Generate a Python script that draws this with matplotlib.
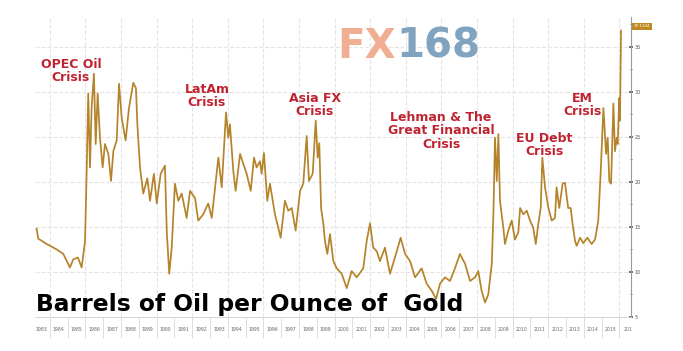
"""Barrels of oil per ounce of gold, 1983-2016."""

import matplotlib.pyplot as plt
from matplotlib.ticker import FixedLocator, NullFormatter

# ------------------------------------------------------------------ data ----

years = [
    1983.26, 1983.35, 1983.83, 1984.39, 1984.76, 1985.13, 1985.32, 1985.58,
    1985.79, 1985.98, 1986.07, 1986.16, 1986.26, 1986.35, 1986.48, 1986.58,
    1986.69, 1986.82, 1986.97, 1987.10, 1987.29, 1987.44, 1987.57, 1987.76,
    1987.89, 1988.04, 1988.26, 1988.45, 1988.69, 1988.84, 1988.92, 1989.07,
    1989.25, 1989.48, 1989.63, 1989.85, 1990.01, 1990.23, 1990.47, 1990.57,
    1990.71, 1990.85, 1991.03, 1991.22, 1991.41, 1991.69, 1991.88, 1992.16,
    1992.34, 1992.62, 1992.90, 1993.10, 1993.47, 1993.66, 1993.90, 1994.03,
    1994.12, 1994.31, 1994.44, 1994.69, 1994.87, 1995.06, 1995.29, 1995.47,
    1995.62, 1995.81, 1995.90, 1996.03, 1996.22, 1996.37, 1996.65, 1996.97,
    1997.21, 1997.40, 1997.59, 1997.81, 1998.06, 1998.24, 1998.43, 1998.56,
    1998.77, 1998.94, 1999.05, 1999.14, 1999.24, 1999.37, 1999.46, 1999.59,
    1999.74, 1999.93, 2000.12, 2000.40, 2000.68, 2000.96, 2001.24, 2001.61,
    2001.80, 2001.99, 2002.17, 2002.37, 2002.55, 2002.83, 2003.11, 2003.39,
    2003.71, 2003.96, 2004.24, 2004.52, 2004.89, 2005.17, 2005.46, 2005.70,
    2005.92, 2006.20, 2006.48, 2006.76, 2007.04, 2007.33, 2007.61, 2007.89,
    2008.07, 2008.26, 2008.45, 2008.63, 2008.83, 2008.92, 2009.01, 2009.11,
    2009.20, 2009.29, 2009.48, 2009.57, 2009.76, 2009.95, 2010.13, 2010.32,
    2010.42, 2010.60, 2010.79, 2010.98, 2011.16, 2011.30, 2011.44, 2011.58,
    2011.67, 2011.82, 2012.01, 2012.20, 2012.38, 2012.47, 2012.62, 2012.81,
    2012.94, 2013.12, 2013.26, 2013.37, 2013.51, 2013.60, 2013.79, 2013.97,
    2014.20, 2014.44, 2014.63, 2014.81, 2014.95, 2015.10, 2015.25, 2015.34,
    2015.43, 2015.53, 2015.66, 2015.75, 2015.85, 2015.90, 2015.99, 2016.03,
    2016.09,
]

ratio = [
    14.8, 13.7, 13.1, 12.5, 12.0, 10.5, 11.4, 11.6,
    10.5, 13.4, 20.9, 29.8, 21.6, 28.2, 32.0, 24.2,
    29.8, 24.9, 21.6, 24.2, 23.1, 20.1, 23.4, 24.6,
    30.9, 27.1, 24.6, 28.2, 31.0, 30.4, 26.4, 21.6,
    18.7, 20.4, 17.9, 20.9, 17.6, 20.9, 21.8, 14.6,
    9.8, 12.7, 19.8, 17.9, 18.7, 16.0, 19.0, 18.2,
    15.7, 16.4, 17.6, 16.0, 22.7, 19.4, 27.7, 24.9,
    26.4, 21.2, 19.0, 23.1, 22.0, 20.9, 19.0, 22.7,
    21.6, 22.3, 20.9, 23.2, 17.9, 19.8, 16.4, 13.8,
    17.9, 16.8, 17.1, 14.6, 19.0, 19.8, 25.1, 20.1,
    20.9, 26.8, 22.7, 24.3, 17.1, 15.3, 13.4, 12.0,
    14.2, 11.2, 10.4, 9.8, 8.2, 10.1, 9.4, 10.4,
    13.4, 15.4, 12.7, 12.3, 11.2, 12.7, 9.8, 11.6,
    13.8, 12.0, 11.2, 9.4, 10.4, 8.7, 7.9, 7.0,
    8.7, 9.4, 9.0, 10.4, 12.0, 10.9, 9.0, 9.4,
    10.1, 7.9, 6.6, 7.5, 10.9, 16.4, 24.9, 20.1,
    25.3, 17.9, 14.9, 13.1, 14.6, 15.7, 13.6, 14.4,
    17.1, 16.4, 16.8, 15.7, 14.9, 13.1, 15.3, 17.1,
    22.7, 19.4, 17.1, 15.7, 16.0, 19.4, 17.1, 19.8,
    19.9, 17.1, 17.1, 15.3, 13.4, 12.9, 13.8, 13.2,
    13.8, 13.1, 13.6, 15.7, 21.2, 28.2, 23.1, 24.9,
    20.1, 19.8, 28.7, 23.4, 24.9, 24.2, 29.3, 26.8,
    36.8,
]

year_labels = [str(y) for y in range(1983, 2016)] + ['201']

crises = [
    ('OPEC Oil\nCrisis', 71, 71),
    ('LatAm\nCrisis', 207, 96),
    ('Asia FX\nCrisis', 315, 105),
    ('Lehman & The\nGreat Financial\nCrisis', 441, 131),
    ('EU Debt\nCrisis', 544, 145),
    ('EM\nCrisis', 582, 105),
]

last_value = '37.1144'

# --------------------------------------------------------------- styling ----

W, H = 683, 351
line_color = '#b5832a'
red = '#c02330'
grid_color = '#e4e4e4'


def px(x, y):
    """pixel position (from top left) -> figure fraction"""
    return x / W, 1 - y / H


fig = plt.figure(figsize=(W / 100, H / 100), dpi=100)
ax = fig.add_axes([35 / W, 1 - 317 / H, (631 - 35) / W, (317 - 17) / H])

ax.plot(years, ratio, color=line_color, lw=1.25, zorder=3)

ax.set_xlim(1983.17, 2016.65)
ax.set_ylim(5, 38.3)

# right hand axis, bloomberg style
ax.yaxis.tick_right()
ax.set_yticks(range(5, 40, 5))
ax.set_yticks([7.5 + 5 * i for i in range(7)], minor=True)
ax.tick_params(axis='y', which='both', direction='inout', length=2.5,
               width=1.2, colors='#555555', labelsize=3.5, pad=1.5)
ax.tick_params(axis='y', which='minor', length=1.5, width=0.6)
ax.grid(axis='y', which='major', color=grid_color, lw=0.8, ls='--')

# year separators below the axis, labels in the middle of each year
ax.xaxis.set_major_locator(FixedLocator(range(1983, 2018)))
ax.xaxis.set_major_formatter(NullFormatter())
ax.xaxis.set_minor_locator(FixedLocator([y + 0.5 for y in range(1983, 2017)]))
ax.set_xticklabels(year_labels, minor=True)
ax.tick_params(axis='x', which='major', direction='out', length=15,
               color='#d8d8d8', width=0.6)
ax.tick_params(axis='x', which='minor', length=0, labelsize=3.3,
               labelcolor='#666666', pad=7)
for gx in range(1984, 2017, 2):
    ax.axvline(gx, color=grid_color, lw=0.8, ls='--', zorder=0)

for side in ('left', 'top'):
    ax.spines[side].set_visible(False)
ax.spines['right'].set_color('#9a9a9a')
ax.spines['bottom'].set_color('#cfcfcf')
ax.spines['bottom'].set_linewidth(0.6)

# last value tag
ax.annotate(last_value, xy=(1, 36.8), xycoords=('axes fraction', 'data'),
            xytext=(2, 3), textcoords='offset points', fontsize=3,
            color='white', va='center', ha='left',
            bbox=dict(boxstyle='square,pad=0.35', fc='#c08a22', ec='none'))

# crisis labels
for text, x, y in crises:
    fig.text(*px(x, y), text, color=red, fontsize=9, fontweight='bold',
             ha='center', va='center', linespacing=1.05)

# FX168 watermark
fig.text(*px(396, 47), 'FX', color='#f0ae92', fontsize=29,
         fontweight='bold', ha='right', va='center')
fig.text(*px(396, 47), '168', color='#80a3c0', fontsize=29,
         fontweight='bold', ha='left', va='center')

# title
fig.text(*px(36, 305), 'Barrels of Oil per Ounce of  Gold', color='black',
         fontsize=16.8, fontweight='bold', ha='left', va='center')

fig.savefig('out.png', dpi=100, facecolor='white')
